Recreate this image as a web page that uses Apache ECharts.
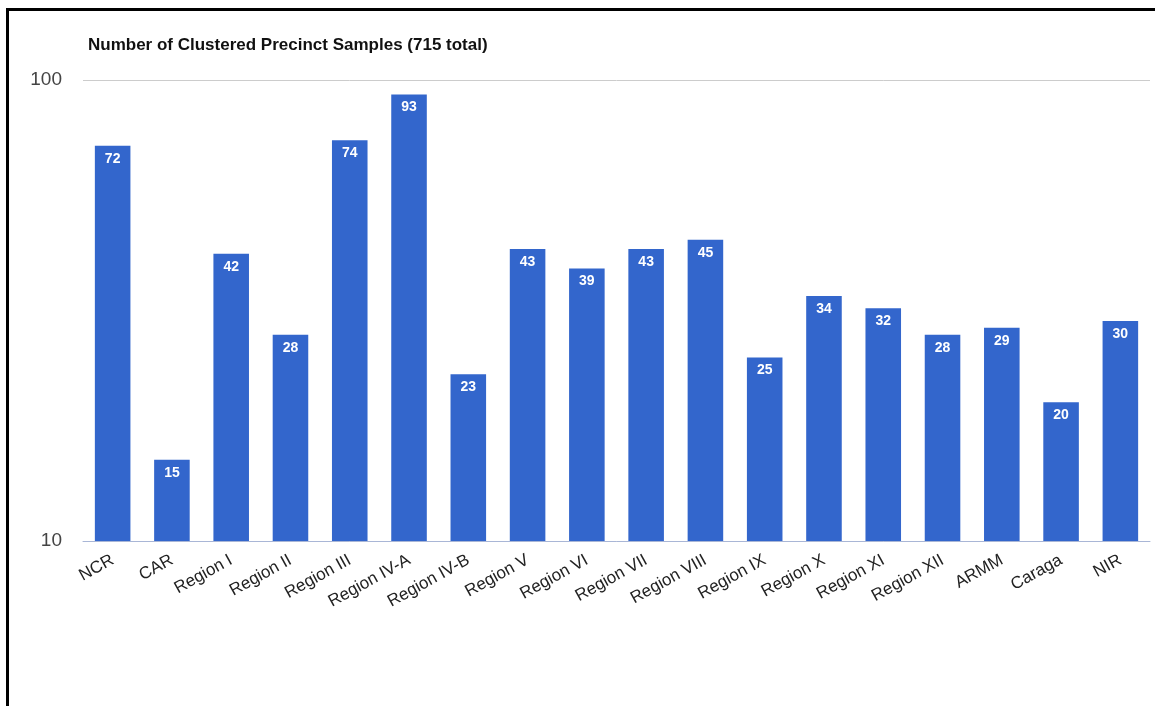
<!DOCTYPE html>
<html>
<head>
<meta charset="utf-8">
<script src="https://cdn.jsdelivr.net/npm/echarts@6/dist/echarts.min.js"></script>
<style>
html,body{margin:0;padding:0;background:#fff;}
#frame{position:absolute;left:6px;top:8px;width:1149px;height:698px;border-top:3px solid #000;border-left:3px solid #000;box-sizing:border-box;}
#chart{position:absolute;left:0;top:0;width:1155px;height:706px;}
</style>
</head>
<body>
<div id="frame"></div>
<div id="chart"></div>
<script>
const categories = ["NCR","CAR","Region I","Region II","Region III","Region IV-A","Region IV-B","Region V","Region VI","Region VII","Region VIII","Region IX","Region X","Region XI","Region XII","ARMM","Caraga","NIR"];
const samples = [72,15,42,28,74,93,23,43,39,43,45,25,34,32,28,29,20,30];
const titleText = "Number of Clustered Precinct Samples (715 total)";

const chart = echarts.init(document.getElementById('chart'), null, {renderer:'canvas'});
chart.setOption({
  backgroundColor: 'transparent',
  animation: false,
  title: {
    text: titleText,
    left: 83, top: 32,
    textStyle: {fontFamily: 'Liberation Sans, Arial, sans-serif', fontSize: 17, fontWeight: 'bold', color: '#111'}
  },
  grid: {left: 83, right: 5, top: 80, bottom: 165},
  xAxis: {
    type: 'category',
    data: categories,
    axisLine: {show: true, lineStyle: {color: '#a9b6d6', width: 1}},
    axisTick: {show: false},
    axisLabel: {
      rotate: 29, interval: 0, margin: 18,
      fontFamily: 'Liberation Sans, Arial, sans-serif', fontSize: 17, color: '#222'
    }
  },
  yAxis: {
    type: 'log',
    logBase: 10,
    min: 10, max: 100,
    axisLine: {show: false},
    axisTick: {show: false},
    splitLine: {show: true, lineStyle: {color: '#cccccc', width: 1}},
    axisLabel: {
      margin: 21,
      fontFamily: 'Liberation Sans, Arial, sans-serif', fontSize: 19, color: '#444'
    }
  },
  series: [{
    type: 'bar',
    data: samples,
    barWidth: '60%',
    itemStyle: {color: '#3366cc'},
    label: {
      show: true, position: 'insideTop', distance: 6,
      color: '#fff', fontWeight: 'bold', fontSize: 14,
      fontFamily: 'Liberation Sans, Arial, sans-serif'
    }
  }]
});
</script>
</body>
</html>
